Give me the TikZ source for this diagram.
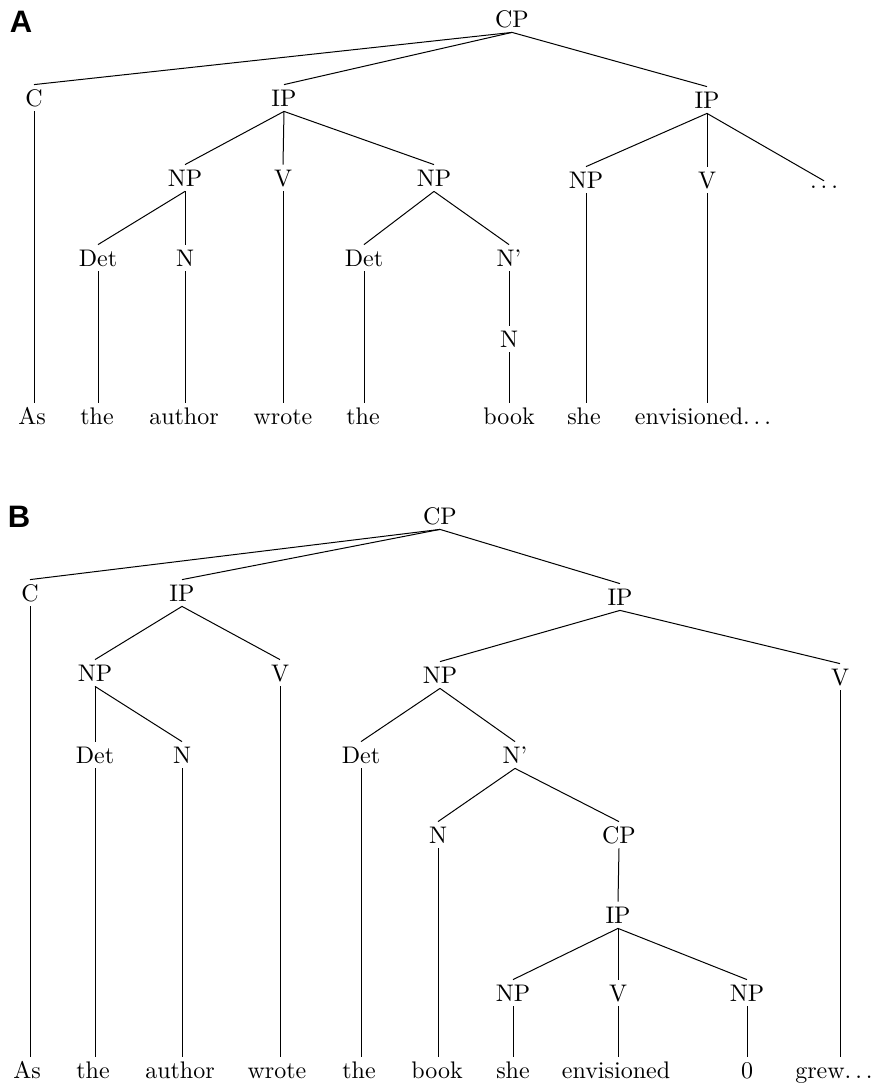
\documentclass[tikz,border=0pt]{standalone}
\usepackage{fontspec}
\usepackage{graphicx}
\newfontfamily\panelfont{Liberation Sans}
\newcommand{\T}[1]{\scalebox{2.4}{#1}}
\newcommand{\dd}{\ensuremath{\ldots}}
\tikzset{
  nt/.style={inner xsep=2pt, inner ysep=5pt, text height=16.4pt, text depth=0pt},
  lf/.style={nt},
  dotsnode/.style={inner xsep=2pt, inner ysep=4pt, text height=3pt, text depth=0pt},
  br/.style={line width=1pt},
  panel/.style={font=\panelfont\bfseries\fontsize{31}{32}\selectfont, inner sep=0pt}
}
\begin{document}
\begin{tikzpicture}[x=1pt,y=-1pt]
\useasboundingbox (0,0) rectangle (873,1088);

% ---------- Panel A ----------
\node[panel] (labA) at (21,22) {A};
\node[nt] (aCP) at (512,19) {\T{CP}};
\node[nt] (aC) at (34,98) {\T{C}};
\node[nt] (aIPa) at (284,98) {\T{IP}};
\node[nt] (aIPb) at (707,100) {\T{IP}};
\node[nt] (aNPa) at (185,178) {\T{NP}};
\node[nt] (aVa) at (283,178) {\T{V}};
\node[nt] (aNPb) at (434,178) {\T{NP}};
\node[nt] (aNPc) at (586,180) {\T{NP}};
\node[nt] (aVb) at (707,180) {\T{V}};
\node[dotsnode] (aDots) at (824,186.5) {\T{\dd}};
\node[nt] (aDeta) at (98,258) {\T{Det}};
\node[nt] (aNa) at (185,258) {\T{N}};
\node[nt] (aDetb) at (364,258) {\T{Det}};
\node[nt] (aNbar) at (509,258) {\T{N'}};
\node[nt] (aNb) at (509,339) {\T{N}};

\node[lf] (aL1) at (32,416) {\T{As}};
\node[lf] (aL2) at (97,416) {\T{the}};
\node[lf] (aL3) at (184,416) {\T{author}};
\node[lf] (aL4) at (283,416) {\T{wrote}};
\node[lf] (aL5) at (363,416) {\T{the}};
\node[lf] (aL6) at (509,416) {\T{book}};
\node[lf] (aL7) at (584,416) {\T{she}};
\node[lf] (aL8) at (703,416) {\T{envisioned\dd}};

\begin{scope}[br]
\draw (aCP.south) -- (aC.north);
\draw (aCP.south) -- (aIPa.north);
\draw (aCP.south) -- (aIPb.north);
\draw (aIPa.south) -- (aNPa.north);
\draw (aIPa.south) -- (aVa.north);
\draw (aIPa.south) -- (aNPb.north);
\draw (aIPb.south) -- (aNPc.north);
\draw (aIPb.south) -- (aVb.north);
\draw (aIPb.south) -- (aDots.north);
\draw (aNPa.south) -- (aDeta.north);
\draw (aNPa.south) -- (aNa.north);
\draw (aNPb.south) -- (aDetb.north);
\draw (aNPb.south) -- (aNbar.north);
\draw (aNbar.south) -- (aNb.north);
\draw (aC.south) -- (aC.south |- aL1.north);
\draw (aDeta.south) -- (aDeta.south |- aL2.north);
\draw (aNa.south) -- (aNa.south |- aL3.north);
\draw (aVa.south) -- (aVa.south |- aL4.north);
\draw (aDetb.south) -- (aDetb.south |- aL5.north);
\draw (aNb.south) -- (aNb.south |- aL6.north);
\draw (aNPc.south) -- (aNPc.south |- aL7.north);
\draw (aVb.south) -- (aVb.south |- aL8.north);
\end{scope}

% ---------- Panel B ----------
\node[panel] (labB) at (19,517) {B};
\node[nt] (bCP) at (440,516) {\T{CP}};
\node[nt] (bC) at (30,593) {\T{C}};
\node[nt] (bIPa) at (182,593) {\T{IP}};
\node[nt] (bIPb) at (620,597) {\T{IP}};
\node[nt] (bNPa) at (95,673) {\T{NP}};
\node[nt] (bVa) at (280,673) {\T{V}};
\node[nt] (bNPb) at (440,675) {\T{NP}};
\node[nt] (bVb) at (840,677) {\T{V}};
\node[nt] (bDeta) at (95,755) {\T{Det}};
\node[nt] (bNa) at (182,755) {\T{N}};
\node[nt] (bDetb) at (361,755) {\T{Det}};
\node[nt] (bNbar) at (515,755) {\T{N'}};
\node[nt] (bNb) at (438,835) {\T{N}};
\node[nt] (bCPb) at (619,835) {\T{CP}};
\node[nt] (bIPc) at (618,915) {\T{IP}};
\node[nt] (bNPc) at (513,993) {\T{NP}};
\node[nt] (bVc) at (618,993) {\T{V}};
\node[nt] (bNPd) at (747,993) {\T{NP}};

\node[lf] (bL1) at (27,1070) {\T{As}};
\node[lf] (bL2) at (93,1070) {\T{the}};
\node[lf] (bL3) at (180,1070) {\T{author}};
\node[lf] (bL4) at (277,1070) {\T{wrote}};
\node[lf] (bL5) at (359,1070) {\T{the}};
\node[lf] (bL6) at (437,1070) {\T{book}};
\node[lf] (bL7) at (513,1070) {\T{she}};
\node[lf] (bL8) at (616,1070) {\T{envisioned}};
\node[lf] (bL9) at (747,1070) {\T{0}};
\node[lf] (bL10) at (834,1070) {\T{grew\dd}};

\begin{scope}[br]
\draw (bCP.south) -- (bC.north);
\draw (bCP.south) -- (bIPa.north);
\draw (bCP.south) -- (bIPb.north);
\draw (bIPa.south) -- (bNPa.north);
\draw (bIPa.south) -- (bVa.north);
\draw (bNPa.south) -- (bDeta.north);
\draw (bNPa.south) -- (bNa.north);
\draw (bIPb.south) -- (bNPb.north);
\draw (bIPb.south) -- (bVb.north);
\draw (bNPb.south) -- (bDetb.north);
\draw (bNPb.south) -- (bNbar.north);
\draw (bNbar.south) -- (bNb.north);
\draw (bNbar.south) -- (bCPb.north);
\draw (bCPb.south) -- (bIPc.north);
\draw (bIPc.south) -- (bNPc.north);
\draw (bIPc.south) -- (bVc.north);
\draw (bIPc.south) -- (bNPd.north);
\draw (bC.south) -- (bC.south |- bL1.north);
\draw (bDeta.south) -- (bDeta.south |- bL2.north);
\draw (bNa.south) -- (bNa.south |- bL3.north);
\draw (bVa.south) -- (bVa.south |- bL4.north);
\draw (bDetb.south) -- (bDetb.south |- bL5.north);
\draw (bNb.south) -- (bNb.south |- bL6.north);
\draw (bNPc.south) -- (bNPc.south |- bL7.north);
\draw (bVc.south) -- (bVc.south |- bL8.north);
\draw (bNPd.south) -- (bNPd.south |- bL9.north);
\draw (bVb.south) -- (bVb.south |- bL10.north);
\end{scope}
\end{tikzpicture}
\end{document}
